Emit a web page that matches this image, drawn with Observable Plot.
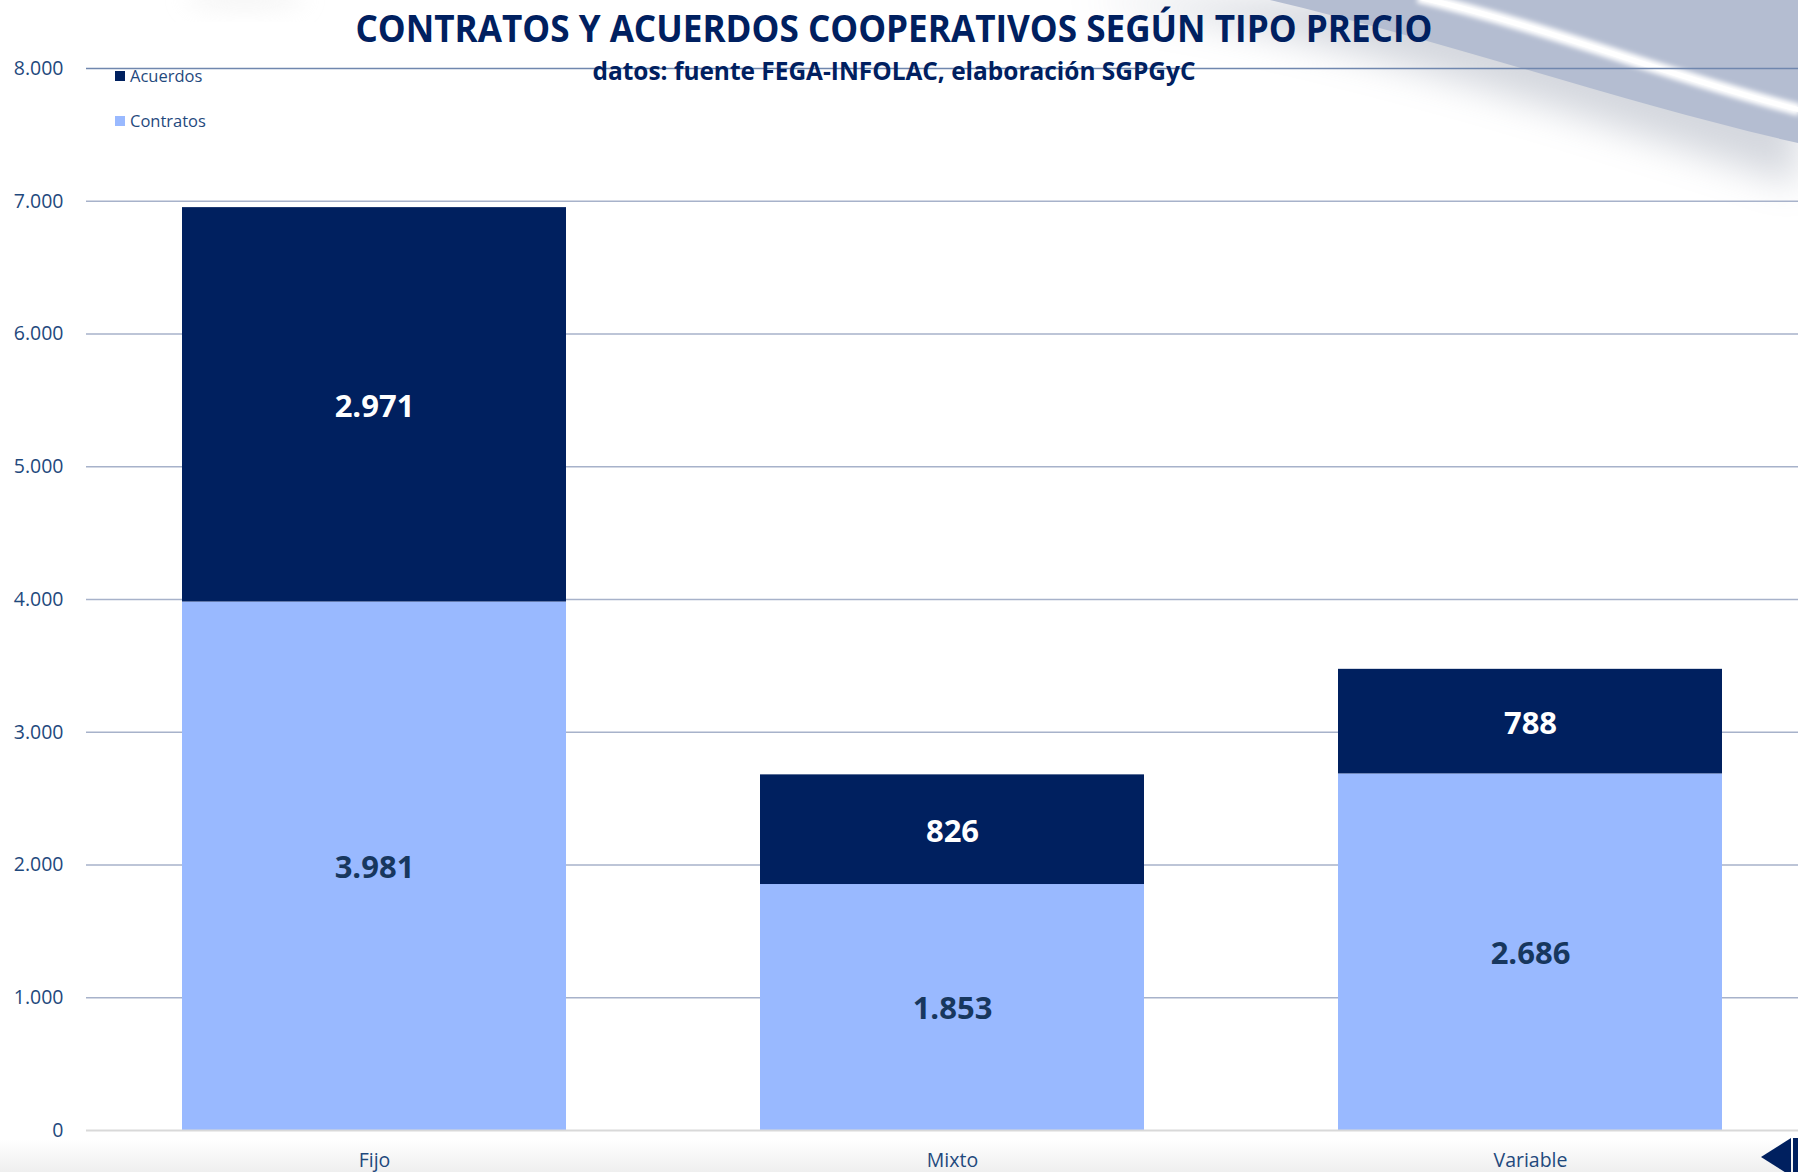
<!DOCTYPE html>
<html><head><meta charset="utf-8">
<script src="https://cdn.jsdelivr.net/npm/d3@7"></script>
<script src="https://cdn.jsdelivr.net/npm/@observablehq/plot@0.6"></script>
<style>
html,body{margin:0;padding:0;background:#fff;}
#wrap{position:relative;width:1798px;height:1172px;overflow:hidden;font-family:"Open Sans",sans-serif;background:#fff;}
#bg,#fg,#chart{position:absolute;left:0;top:0;}
#chart svg{display:block;}
</style></head><body>
<div id="wrap">
<svg id="bg" width="1798" height="1172">
  <defs>
    <filter id="blurS" x="-20%" y="-50%" width="140%" height="200%"><feGaussianBlur stdDeviation="18"/></filter>
    <filter id="blur2" x="-10%" y="-50%" width="120%" height="200%"><feGaussianBlur stdDeviation="2.5"/></filter>
    <filter id="blurTL" x="-50%" y="-100%" width="200%" height="300%"><feGaussianBlur stdDeviation="12"/></filter>
    <linearGradient id="bottomGrad" x1="0" y1="0" x2="0" y2="1">
      <stop offset="0" stop-color="#ffffff"/>
      <stop offset="1" stop-color="#efefef"/>
    </linearGradient>
  </defs>
  <rect x="0" y="1140" width="1798" height="32" fill="url(#bottomGrad)"/>
  <ellipse cx="245" cy="-2" rx="60" ry="8" fill="#e2e2e2" opacity="0.5" filter="url(#blurTL)"/>
  <path d="M1080,0 C1320,30 1560,110 1798,185 L1798,0 Z" fill="#7f889c" opacity="0.33" filter="url(#blurS)"/>
  <path d="M1270,0 C1460,45 1630,105 1798,143 L1798,0 Z" fill="#B4BDD1"/>
  <path d="M1418,-3 C1550,28 1680,80 1800,110" fill="none" stroke="#ffffff" stroke-width="12" filter="url(#blur2)"/>
  <path d="M1418,-3 C1550,28 1680,80 1800,110" fill="none" stroke="#ffffff" stroke-width="5"/>
</svg>
<div id="chart"></div>
<svg id="fg" width="1798" height="1172"></svg>
</div>
<script>
// ---- data ----
const categories = ["Fijo", "Mixto", "Variable"];
const series = ["Contratos", "Acuerdos"];
const contratos = [3981, 1853, 2686];
const acuerdos = [2971, 826, 788];
const yTicks = [0, 1000, 2000, 3000, 4000, 5000, 6000, 7000, 8000];
const legendOrder = ["Acuerdos", "Contratos"];
const title = "CONTRATOS Y ACUERDOS COOPERATIVOS SEGÚN TIPO PRECIO";
const subtitle = "datos: fuente FEGA-INFOLAC, elaboración SGPGyC";

// ---- styles ----
const barColor = {Contratos: "#99B9FF", Acuerdos: "#00205F"};
const labelColor = {Contratos: "#17375E", Acuerdos: "#FFFFFF"};
const textColor = "#1F497D";

const rows = [];
categories.forEach((c, i) => {
  rows.push({cat: c, series: "Contratos", value: contratos[i]});
  rows.push({cat: c, series: "Acuerdos", value: acuerdos[i]});
});

const loc = d3.formatLocale({decimal: ",", thousands: ".", grouping: [3], currency: ["", "€"]});
const fmt = loc.format(",");

const chart = Plot.plot({
  width: 1798, height: 1172,
  marginTop: 68, marginBottom: 42, marginLeft: 86, marginRight: 0,
  style: {background: "transparent", fontFamily: "'Open Sans', sans-serif", color: textColor},
  x: {domain: categories, range: [84, 1820], paddingInner: 0.335, paddingOuter: 0.1675, label: null},
  y: {domain: [0, 8000], label: null},
  color: {type: "identity"},
  marks: [
    Plot.ruleY(yTicks.filter(d => d > 0 && d < 8000), {stroke: "#A7B2CA", strokeWidth: 1.3}),
    Plot.ruleY([8000], {stroke: "#7087AE", strokeWidth: 1.3}),
    Plot.barY(rows, {x: "cat", y: "value", z: "series", fill: d => barColor[d.series]}),
    Plot.ruleY([0], {stroke: "#D9D9D9", strokeWidth: 2.2}),
    Plot.text(rows, Plot.stackY({
      x: "cat", y: "value", z: "series",
      text: d => fmt(d.value),
      fill: d => labelColor[d.series],
      fontSize: 31, fontWeight: "bold", dy: 2
    })),
    Plot.axisY({ticks: yTicks, tickSize: 0, tickPadding: 23, tickFormat: fmt, fontSize: 19.5, fill: textColor, label: null}),
    Plot.axisX({tickSize: 0, tickPadding: 23, fontSize: 19.5, fill: textColor, label: null})
  ]
});
document.getElementById("chart").appendChild(chart);

// ---- overlay: title, subtitle, legend, nav triangle ----
const fg = d3.select("#fg");
fg.append("text").text(title)
  .attr("x", 894).attr("y", 42).attr("text-anchor", "middle")
  .attr("font-family", "'Open Sans', sans-serif").attr("font-weight", "bold")
  .attr("font-size", 37).attr("fill", "#002060")
  .attr("textLength", 1077).attr("lengthAdjust", "spacingAndGlyphs");
fg.append("text").text(subtitle)
  .attr("x", 894).attr("y", 80).attr("text-anchor", "middle")
  .attr("font-family", "'Open Sans', sans-serif").attr("font-weight", "bold")
  .attr("font-size", 25).attr("fill", "#002060")
  .attr("textLength", 603).attr("lengthAdjust", "spacingAndGlyphs");

const lg = fg.append("g").attr("font-family", "'Open Sans', sans-serif").attr("font-size", 16.5);
legendOrder.forEach((s, i) => {
  const g = lg.append("g").attr("transform", `translate(115,${71 + i * 45})`);
  g.append("rect").attr("width", 10).attr("height", 10).attr("fill", barColor[s]);
  g.append("text").attr("x", 15).attr("y", 10.5).attr("fill", textColor).text(s);
});

fg.append("path").attr("d", "M1761,1157 L1791,1138 L1791,1176 Z").attr("fill", "#00205F");
fg.append("rect").attr("x", 1793).attr("y", 1138).attr("width", 5).attr("height", 40).attr("fill", "#00205F");
</script>
</body></html>
